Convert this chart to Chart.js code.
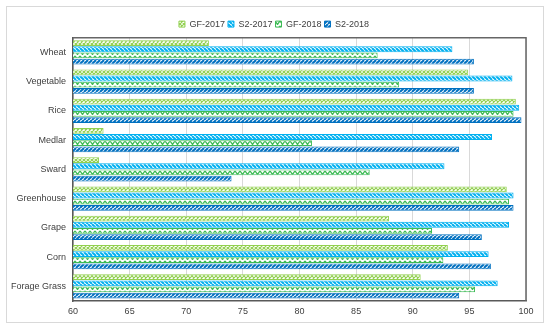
<!DOCTYPE html>
<html>
<head>
<meta charset="utf-8">
<script src="https://cdn.jsdelivr.net/npm/chart.js@4/dist/chart.umd.min.js"></script>
<style>
  body { margin: 0; background: #fff; }
  #wrap { width: 550px; height: 329px; }
</style>
</head>
<body>
<div id="wrap"><canvas id="chart" width="550" height="329"></canvas></div>
<script>
  // categories and values
  const crops = ['Wheat', 'Vegetable', 'Rice', 'Medlar', 'Sward', 'Greenhouse', 'Grape', 'Corn', 'Forage Grass'];
  const gf2017 = [72.0, 94.9, 99.1, 62.7, 62.3, 98.3, 87.9, 93.1, 90.7];
  const s22017 = [93.5, 98.8, 99.4, 97.0, 92.8, 98.9, 98.5, 96.7, 97.5];
  const gf2018 = [86.9, 88.8, 98.9, 81.1, 86.2, 98.5, 91.7, 92.7, 95.5];
  const s22018 = [95.4, 95.4, 99.6, 94.1, 74.0, 98.9, 96.1, 96.9, 94.1];
  const xTicks = [60, 65, 70, 75, 80, 85, 90, 95, 100];

  // small fill patterns like the hatched bars
  function makePattern(color, kind) {
    const c = document.createElement('canvas');
    const s = kind === 'scallop' ? 5 : 4;
    c.width = s; c.height = s;
    const g = c.getContext('2d');
    g.fillStyle = '#fff';
    g.fillRect(0, 0, s, s);
    g.strokeStyle = color;
    if (kind === 'back' || kind === 'fwd') {
      g.lineWidth = 2;
      for (let k = -1; k <= 1; k++) {
        g.beginPath();
        if (kind === 'fwd') { g.moveTo(k * s, s); g.lineTo(k * s + s, 0); }
        else { g.moveTo(k * s, 0); g.lineTo(k * s + s, s); }
        g.stroke();
      }
    } else if (kind === 'cross') {
      g.lineWidth = 1.2;
      g.beginPath();
      g.moveTo(0, 0); g.lineTo(s, s);
      g.moveTo(0, s); g.lineTo(s, 0);
      g.stroke();
    } else {
      g.lineWidth = 1.3;
      g.beginPath();
      g.moveTo(0, 1); g.lineTo(s / 2, s - 0.5); g.lineTo(s, 1);
      g.stroke();
    }
    return g.createPattern(c, 'repeat');
  }

  const colors = ['#92D050', '#00B0F0', '#3DBB55', '#0070C0'];
  const kinds = ['cross', 'back', 'scallop', 'fwd'];
  const labels = ['GF-2017', 'S2-2017', 'GF-2018', 'S2-2018'];
  const series = [gf2017, s22017, gf2018, s22018];

  const datasets = series.map((vals, i) => ({
    label: labels[i],
    data: vals,
    backgroundColor: makePattern(colors[i], kinds[i]),
    borderColor: colors[i],
    borderWidth: 1,
    categoryPercentage: 0.84,
    barPercentage: 0.95
  }));

  // outer frame and box round the plot
  const framePlugin = {
    id: 'frame',
    afterInit(chart) {
      const lg = chart.legend;
      if (lg) {
        const fit = lg.fit.bind(lg);
        lg.fit = function () { fit(); this.height -= 0.9; };
      }
    },
    beforeDraw(chart) {
      const ctx = chart.ctx;
      ctx.save();
      ctx.fillStyle = '#fff';
      ctx.fillRect(0, 0, chart.width, chart.height);
      ctx.strokeStyle = '#d9d9d9';
      ctx.lineWidth = 1;
      ctx.strokeRect(6.5, 6.5, 537, 316);
      ctx.restore();
    },
    afterDraw(chart) {
      const a = chart.chartArea;
      const ctx = chart.ctx;
      ctx.save();
      ctx.strokeStyle = '#666';
      ctx.lineWidth = 1.5;
      ctx.beginPath();
      ctx.moveTo(a.left, a.top);
      ctx.lineTo(a.right, a.top);
      ctx.lineTo(a.right, a.bottom);
      ctx.stroke();
      ctx.restore();
    }
  };

  const font = { family: 'Liberation Sans, Arial, sans-serif', size: 9 };

  new Chart(document.getElementById('chart').getContext('2d'), {
    type: 'bar',
    data: { labels: crops, datasets: datasets },
    plugins: [framePlugin],
    options: {
      responsive: false,
      animation: false,
      indexAxis: 'y',
      layout: { padding: { top: 16.6, left: 0, right: 2, bottom: 0 } },
      scales: {
        x: {
          min: 60,
          max: 100,
          afterBuildTicks: scale => { scale.ticks = xTicks.map(v => ({ value: v })); },
          afterFit: scale => { scale.height = 28; },
          grid: { color: '#d9d9d9', drawTicks: false },
          border: { color: '#595959', width: 1.5 },
          ticks: { font: font, color: '#404040', padding: 5 }
        },
        y: {
          afterFit: scale => { scale.width = 73; },
          grid: { display: false, drawTicks: false },
          border: { color: '#595959', width: 1.5 },
          ticks: { font: font, color: '#404040', padding: 7 }
        },
        // empty strip on the right so the legend sits where it does in the picture
        yRight: {
          type: 'category',
          position: 'right',
          afterFit: scale => { scale.width = 22; },
          grid: { display: false, drawTicks: false },
          border: { display: false },
          ticks: { display: false }
        }
      },
      plugins: {
        legend: {
          position: 'top',
          labels: { font: font, color: '#404040', boxWidth: 6, boxHeight: 6, padding: 3 }
        },
        tooltip: { enabled: false }
      }
    }
  });
</script>
</body>
</html>
